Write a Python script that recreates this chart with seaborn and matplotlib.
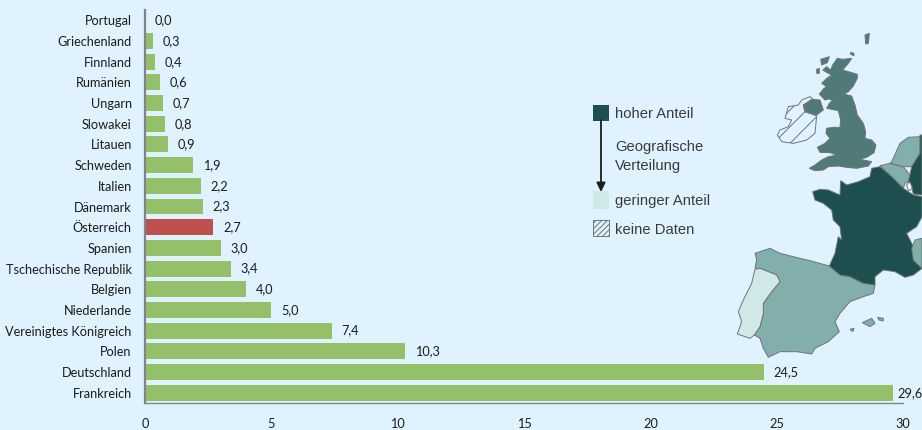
import matplotlib
matplotlib.use("Agg")
import matplotlib.pyplot as plt
from matplotlib.patches import Polygon, Rectangle
import pandas as pd
import seaborn as sns

countries = ["Portugal", "Griechenland", "Finnland", "Rumänien", "Ungarn", "Slowakei", "Litauen",
             "Schweden", "Italien", "Dänemark", "Österreich", "Spanien", "Tschechische Republik",
             "Belgien", "Niederlande", "Vereinigtes Königreich", "Polen", "Deutschland", "Frankreich"]
values = [0.0, 0.3, 0.4, 0.6, 0.7, 0.8, 0.9, 1.9, 2.2, 2.3, 2.7, 3.0, 3.4, 4.0, 5.0, 7.4, 10.3, 24.5, 29.6]
x_ticks = [0, 5, 10, 15, 20, 25, 30]

BG = "#e0f2fd"
GREEN = "#94c06a"
RED = "#c0504d"
AXIS = "#808488"
TXT = "#1c1c1c"
LEG = "#3a3a3a"
DARK = "#1c4f4e"
MID2 = "#4f7a78"
MID = "#82aeac"
LIGHT = "#d0e9e6"
EDGE = "#6f7478"

# Decorative map outlines (zoomed-crop pixels, origin 700,20, scale 3)
france = [(515,445),(540,440),(575,470),(610,505),(640,525),(666,530),(666,590),(650,620),(620,640),(640,680),(640,720),(666,745),(640,765),(615,772),(585,755),(550,750),(525,770),(525,795),(490,790),(450,770),(420,765),(388,738),(405,700),(415,650),(425,660),(420,620),(400,600),(395,570),(370,550),(345,540),(338,515),(360,508),(385,510),(420,525),(422,482),(440,495),(475,485),(510,470)]
spain = [(165,700),(210,685),(240,700),(300,715),(330,722),(388,738),(420,765),(450,770),(490,790),(525,795),(520,820),(490,830),(450,845),(420,880),(405,905),(418,935),(385,965),(345,985),(335,1002),(290,995),(240,995),(205,1012),(190,985),(180,955),(163,945),(180,920),(190,880),(190,850),(215,815),(240,785),(230,765),(180,745),(165,745),(170,720)]
portugal = [(165,748),(180,745),(230,765),(240,785),(215,815),(190,850),(190,880),(180,920),(163,945),(150,955),(112,942),(125,905),(115,875),(130,840),(155,790)]
britain = [(412,115),(428,118),(455,115),(445,130),(428,150),(445,155),(472,163),(472,175),(460,198),(445,215),(432,222),(455,228),(465,255),(472,285),(490,310),(497,335),(495,355),(515,360),(528,375),(522,398),(500,412),(480,418),(515,425),(505,438),(470,445),(440,442),(415,438),(385,440),(370,450),(345,452),(328,445),(345,435),(365,420),(385,410),(410,405),(390,398),(360,397),(352,382),(375,370),(390,355),(378,340),(380,325),(400,322),(420,322),(422,300),(415,272),(395,268),(380,265),(388,250),(398,240),(385,237),(375,240),(358,222),(372,205),(380,200),(365,190),(380,175),(395,165),(385,160),(368,150),(380,140),(392,150),(398,135)]
n_ireland = [(310,255),(335,238),(360,240),(370,270),(350,285),(330,280),(315,275)]
ireland = [(305,240),(330,230),(340,238),(310,255),(315,275),(330,280),(350,288),(345,340),(320,360),(280,370),(245,365),(232,345),(240,330),(265,320),(275,300),(255,295),(265,260),(295,255)]
isles = [[(495,45),(508,40),(505,70),(497,72)], [(362,118),(388,110),(382,128),(365,135)],
         [(452,97),(462,100),(462,107),(452,103)], [(350,148),(358,145),(358,160),(350,160)]]
belgium = [(540,437),(570,430),(610,440),(630,465),(625,485),(615,490),(610,505),(575,470)]
netherlands = [(575,425),(600,370),(625,352),(660,350),(660,400),(635,440),(610,440),(570,430)]
germany = [(660,345),(666,345),(666,525),(640,522),(635,500),(625,485),(630,465),(635,440),(660,400)]
luxembourg = [(620,495),(630,485),(637,505),(625,512)]
italy = [(666,655),(645,660),(635,685),(640,720),(666,745)]
balearic = [[(487,908),(515,895),(525,910),(510,920)], [(533,892),(550,895),(550,903),(537,900)],
            [(450,928),(462,925),(458,935)]]

sns.set_theme(style="white")
plt.rcParams["font.family"] = ["Lato", "DejaVu Sans"]
plt.rcParams["hatch.linewidth"] = 0.7

W, H = 922, 430
fig = plt.figure(figsize=(W / 100, H / 100), dpi=100, facecolor=BG)
ax = fig.add_axes([145 / W, 1 - 403 / H, (903 - 145) / W, (403 - 10) / H])
ax.set_facecolor("none")

df = pd.DataFrame({"Land": countries, "Anteil": values})
palette = {c: (RED if c == "Österreich" else GREEN) for c in countries}
sns.barplot(data=df, y="Land", x="Anteil", hue="Land", palette=palette, dodge=False,
            legend=False, width=0.77, saturation=1, linewidth=0, ax=ax, orient="h")

ax.set_xlim(0, 30)
ax.set_ylim(18.5, -0.5)
ax.set_xlabel("")
ax.set_ylabel("")
ax.set_xticks(x_ticks)
ax.set_xticklabels([str(t) for t in x_ticks])
ax.tick_params(axis="x", length=4, width=1, color=AXIS, labelsize=9.2, labelcolor=TXT, pad=7)
ax.tick_params(axis="y", length=0, labelsize=9.2, labelcolor=TXT, pad=9.5)
for s in ("top", "right"):
    ax.spines[s].set_visible(False)
ax.spines["left"].set_color(AXIS)
ax.spines["left"].set_linewidth(1.6)
ax.spines["bottom"].set_color(AXIS)
ax.spines["bottom"].set_linewidth(1.0)

for i, v in enumerate(values):
    off = 3.0 if i == len(values) - 1 else 7.0
    ax.annotate(f"{v:.1f}".replace(".", ","), (v, i), xytext=(off, 0), textcoords="offset points",
                va="center", ha="left", fontsize=9.2, color=TXT, annotation_clip=False)

ov = fig.add_axes([0, 0, 1, 1], zorder=-1)
ov.set_xlim(0, W)
ov.set_ylim(H, 0)
ov.axis("off")
ov.patch.set_alpha(0)


def shape(pts, fc, hatch=None, lw=0.7):
    xy = [(700 + x / 3, 20 + y / 3) for x, y in pts]
    ov.add_patch(Polygon(xy, closed=True, facecolor=fc, edgecolor=EDGE, linewidth=lw, hatch=hatch))


shape(ireland, BG, hatch="//")
for s, c in [(britain, MID2), (n_ireland, MID2), (spain, MID), (portugal, LIGHT), (belgium, MID),
             (netherlands, MID), (germany, DARK), (france, DARK), (luxembourg, "white"), (italy, MID)]:
    shape(s, c)
for s in isles:
    shape(s, MID2)
for s in balearic:
    shape(s, MID)

# Legend
ov.add_patch(Rectangle((593, 105), 16, 16, facecolor=DARK, edgecolor="none"))
ov.add_patch(Rectangle((593, 191), 16, 18, facecolor=LIGHT, edgecolor="none"))
ov.add_patch(Rectangle((593, 220), 16, 16, facecolor=BG, edgecolor=EDGE, linewidth=0.7, hatch="//////"))
ov.annotate("", xy=(601, 192), xytext=(601, 120),
            arrowprops=dict(arrowstyle="-|>,head_width=0.22,head_length=0.45", color="#1c1c1c", lw=1.3,
                            shrinkA=0, shrinkB=0))
for x, y, t in [(615, 114, "hoher Anteil"), (615, 147.5, "Geografische"), (615, 166, "Verteilung"),
                (614.5, 201.5, "geringer Anteil"), (614.5, 230.5, "keine Daten")]:
    ov.text(x, y, t, fontsize=10.6, color=LEG, va="center", ha="left", family="Liberation Sans")

fig.savefig("out.png", dpi=100, facecolor=BG)
